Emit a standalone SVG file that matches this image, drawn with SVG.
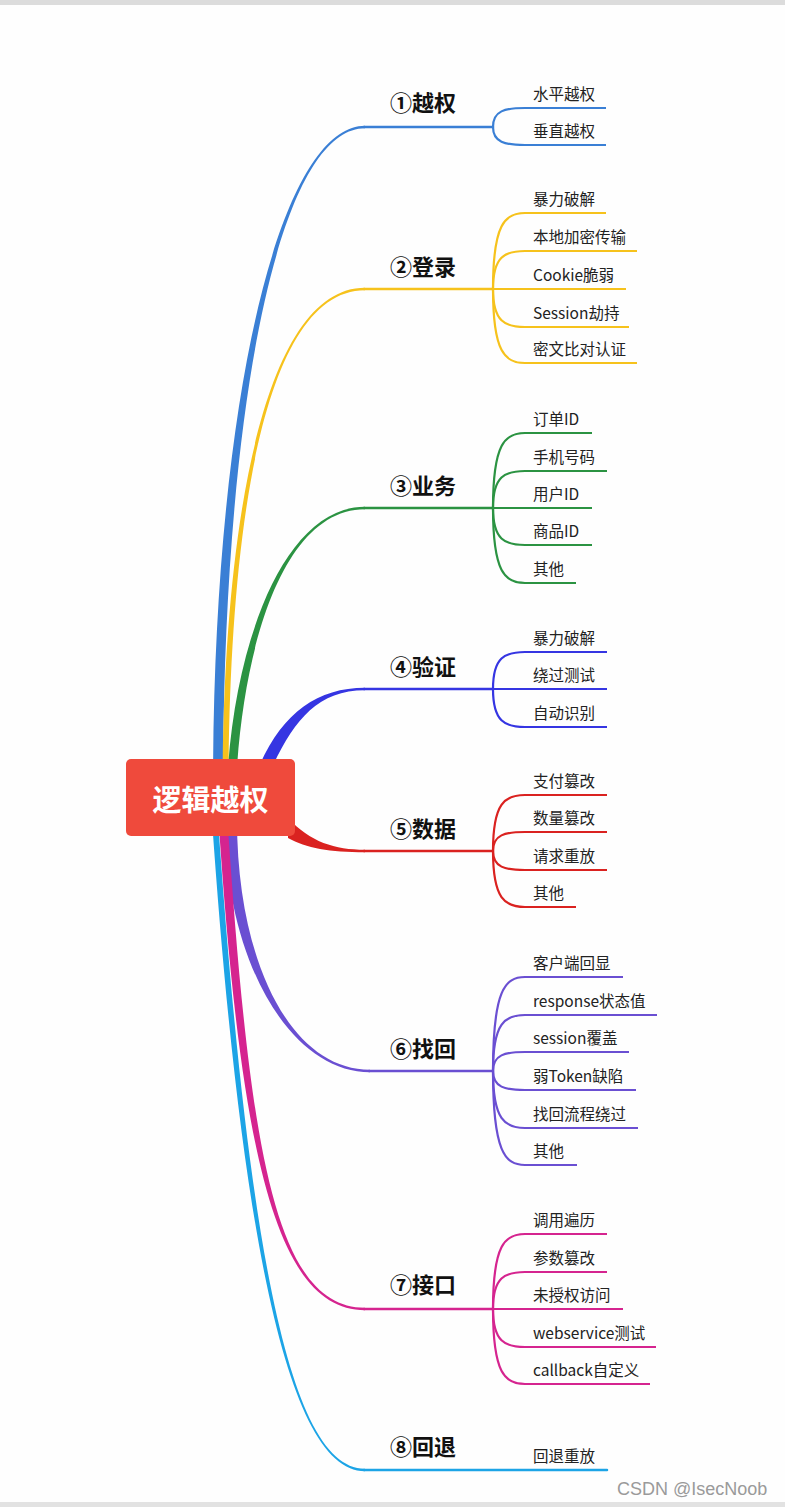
<svg xmlns="http://www.w3.org/2000/svg" width="785" height="1507" viewBox="0 0 785 1507">
<style>
.lbl{font-family:"Noto Sans CJK SC","Noto Sans",sans-serif;font-size:22px;font-weight:bold;fill:#111}
.leaf{font-family:"Noto Sans CJK SC","Noto Sans",sans-serif;font-size:15.5px;fill:#222}
.ln{fill:none;stroke-width:2.5;stroke-linecap:round}
.sub{fill:none;stroke-width:2.2}
.root{font-family:"Noto Sans CJK SC","Noto Sans",sans-serif;font-size:29px;font-weight:bold;fill:#fff}
.wm{font-family:"Liberation Sans",Arial,sans-serif;font-size:18px;fill:#9a9a9a}
</style>
<rect x="0" y="0" width="785" height="1507" fill="#fefefe"/>
<rect x="0" y="0" width="785" height="5" fill="#dcdcdc"/>
<rect x="0" y="1502" width="785" height="5" fill="#e2e2e2"/>

<g id="connectors">
  <!-- main tapered branches -->
  <path fill="#3a7fd5" d="M213,790 C213,400 280,125.75 365,125.75 L365,128.25 C280,128.25 223,400 223,790 Z"/>
  <path fill="#f6c21c" d="M222.5,790 C223,520 265,287.75 365,287.75 L365,290.25 C265,290.25 229,520 228.5,790 Z"/>
  <path fill="#2b9342" d="M227.5,775 C235.5,640 285,506.75 365,506.75 L365,509.25 C285,509.25 244.5,640 236.5,775 Z"/>
  <path fill="#3535e2" d="M255.5,775 C278.5,716 315,687.75 365,687.75 L365,690.25 C315,690.25 291.5,724 268.5,775 Z"/>
  <path fill="#da2220" d="M288,818 C310,842 335,849.75 365,849.75 L365,852.25 C330,852.25 306,848 288,838 Z"/>
  <path fill="#1ca4e6" d="M212,820 C242,1250 290,1471.25 365,1471.25 L365,1468.75 C290,1468.75 248,1250 218,820 Z"/>
  <path fill="#6a4fd2" d="M225,820 C225,960 290,1072.25 370,1072.25 L370,1069.75 C290,1069.75 237,960 237,820 Z"/>
  <path fill="#d5248f" d="M218.5,820 C240.5,1150 275,1310.25 365,1310.25 L365,1307.75 C275,1307.75 249.5,1150 227.5,820 Z"/>

  <!-- branch 1 -->
  <g stroke="#3a7fd5">
    <path class="ln" d="M364,127 L493,127"/>
    <path class="sub" d="M493,127 C493,110.7 505,108 525,108 L606,108"/>
    <path class="sub" d="M493,127 C493,142.3 505,145 525,145 L606,145"/>
  </g>
  <!-- branch 2 -->
  <g stroke="#f6c21c">
    <path class="ln" d="M364,289 L493,289"/>
    <path class="sub" d="M493,289 C493,223.6 505,213 525,213 L606,213"/>
    <path class="sub" d="M493,289 C493,256.3 505,251 525,251 L637,251"/>
    <path class="sub" d="M493,289 L626,289"/>
    <path class="sub" d="M493,289 C493,321.7 505,327 525,327 L629,327"/>
    <path class="sub" d="M493,289 C493,352.6 505,363 525,363 L637,363"/>
  </g>
  <!-- branch 3 -->
  <g stroke="#2b9342">
    <path class="ln" d="M364,508 L493,508"/>
    <path class="sub" d="M493,508 C493,443.5 505,433 525,433 L592,433"/>
    <path class="sub" d="M493,508 C493,476.2 505,471 525,471 L607,471"/>
    <path class="sub" d="M493,508 L592,508"/>
    <path class="sub" d="M493,508 C493,539.8 505,545 525,545 L592,545"/>
    <path class="sub" d="M493,508 C493,572.5 505,583 525,583 L576,583"/>
  </g>
  <!-- branch 4 -->
  <g stroke="#3535e2">
    <path class="ln" d="M364,689 L493,689"/>
    <path class="sub" d="M493,689 C493,657.2 505,652 525,652 L607,652"/>
    <path class="sub" d="M493,689 L607,689"/>
    <path class="sub" d="M493,689 C493,721.7 505,727 525,727 L607,727"/>
  </g>
  <!-- branch 5 -->
  <g stroke="#da2220">
    <path class="ln" d="M364,851 L493,851"/>
    <path class="sub" d="M493,851 C493,802.8 505,795 525,795 L607,795"/>
    <path class="sub" d="M493,851 C493,834.7 505,832 525,832 L607,832"/>
    <path class="sub" d="M493,851 C493,867.3 505,870 525,870 L607,870"/>
    <path class="sub" d="M493,851 C493,899.2 505,907 525,907 L576,907"/>
  </g>
  <!-- branch 6 -->
  <g stroke="#6a4fd2">
    <path class="ln" d="M369,1071 L493,1071"/>
    <path class="sub" d="M493,1071 C493,990.2 505,977 525,977 L623,977"/>
    <path class="sub" d="M493,1071 C493,1022.8 505,1015 525,1015 L657,1015"/>
    <path class="sub" d="M493,1071 C493,1054.7 505,1052 525,1052 L629,1052"/>
    <path class="sub" d="M493,1071 C493,1087.3 505,1090 525,1090 L636,1090"/>
    <path class="sub" d="M493,1071 C493,1120 505,1128 525,1128 L638,1128"/>
    <path class="sub" d="M493,1071 C493,1151.8 505,1165 525,1165 L577,1165"/>
  </g>
  <!-- branch 7 -->
  <g stroke="#d5248f">
    <path class="ln" d="M364,1309 L493,1309"/>
    <path class="sub" d="M493,1309 C493,1244.5 505,1234 525,1234 L607,1234"/>
    <path class="sub" d="M493,1309 C493,1277.2 505,1272 525,1272 L607,1272"/>
    <path class="sub" d="M493,1309 L623,1309"/>
    <path class="sub" d="M493,1309 C493,1341.7 505,1347 525,1347 L656,1347"/>
    <path class="sub" d="M493,1309 C493,1373.5 505,1384 525,1384 L650,1384"/>
  </g>
  <!-- branch 8 -->
  <g stroke="#1ca4e6">
    <path class="ln" d="M364,1470 L607,1470"/>
  </g>
</g>

<g id="root">
  <rect x="126" y="759" width="169" height="77" rx="5" fill="#ef4a3c"/>
  <text class="root" x="210.5" y="811" text-anchor="middle">逻辑越权</text>
</g>

<g id="b1"><text class="lbl" x="390" y="111">①越权</text></g>
<g id="b1-1"><text class="leaf" x="533" y="100">水平越权</text></g>
<g id="b1-2"><text class="leaf" x="533" y="137">垂直越权</text></g>

<g id="b2"><text class="lbl" x="390" y="275">②登录</text></g>
<g id="b2-1"><text class="leaf" x="533" y="205">暴力破解</text></g>
<g id="b2-2"><text class="leaf" x="533" y="243">本地加密传输</text></g>
<g id="b2-3"><text class="leaf" x="533" y="281">Cookie脆弱</text></g>
<g id="b2-4"><text class="leaf" x="533" y="319">Session劫持</text></g>
<g id="b2-5"><text class="leaf" x="533" y="355">密文比对认证</text></g>

<g id="b3"><text class="lbl" x="390" y="494">③业务</text></g>
<g id="b3-1"><text class="leaf" x="533" y="425">订单ID</text></g>
<g id="b3-2"><text class="leaf" x="533" y="463">手机号码</text></g>
<g id="b3-3"><text class="leaf" x="533" y="500">用户ID</text></g>
<g id="b3-4"><text class="leaf" x="533" y="537">商品ID</text></g>
<g id="b3-5"><text class="leaf" x="533" y="575">其他</text></g>

<g id="b4"><text class="lbl" x="390" y="675">④验证</text></g>
<g id="b4-1"><text class="leaf" x="533" y="644">暴力破解</text></g>
<g id="b4-2"><text class="leaf" x="533" y="681">绕过测试</text></g>
<g id="b4-3"><text class="leaf" x="533" y="719">自动识别</text></g>

<g id="b5"><text class="lbl" x="390" y="837">⑤数据</text></g>
<g id="b5-1"><text class="leaf" x="533" y="787">支付篡改</text></g>
<g id="b5-2"><text class="leaf" x="533" y="824">数量篡改</text></g>
<g id="b5-3"><text class="leaf" x="533" y="862">请求重放</text></g>
<g id="b5-4"><text class="leaf" x="533" y="899">其他</text></g>

<g id="b6"><text class="lbl" x="390" y="1057">⑥找回</text></g>
<g id="b6-1"><text class="leaf" x="533" y="969">客户端回显</text></g>
<g id="b6-2"><text class="leaf" x="533" y="1007">response状态值</text></g>
<g id="b6-3"><text class="leaf" x="533" y="1044">session覆盖</text></g>
<g id="b6-4"><text class="leaf" x="533" y="1082">弱Token缺陷</text></g>
<g id="b6-5"><text class="leaf" x="533" y="1120">找回流程绕过</text></g>
<g id="b6-6"><text class="leaf" x="533" y="1157">其他</text></g>

<g id="b7"><text class="lbl" x="390" y="1293">⑦接口</text></g>
<g id="b7-1"><text class="leaf" x="533" y="1226">调用遍历</text></g>
<g id="b7-2"><text class="leaf" x="533" y="1264">参数篡改</text></g>
<g id="b7-3"><text class="leaf" x="533" y="1301">未授权访问</text></g>
<g id="b7-4"><text class="leaf" x="533" y="1339">webservice测试</text></g>
<g id="b7-5"><text class="leaf" x="533" y="1376">callback自定义</text></g>

<g id="b8"><text class="lbl" x="390" y="1455">⑧回退</text></g>
<g id="b8-1"><text class="leaf" x="533" y="1462">回退重放</text></g>

<text class="wm" x="617" y="1495">CSDN @IsecNoob</text>
</svg>
